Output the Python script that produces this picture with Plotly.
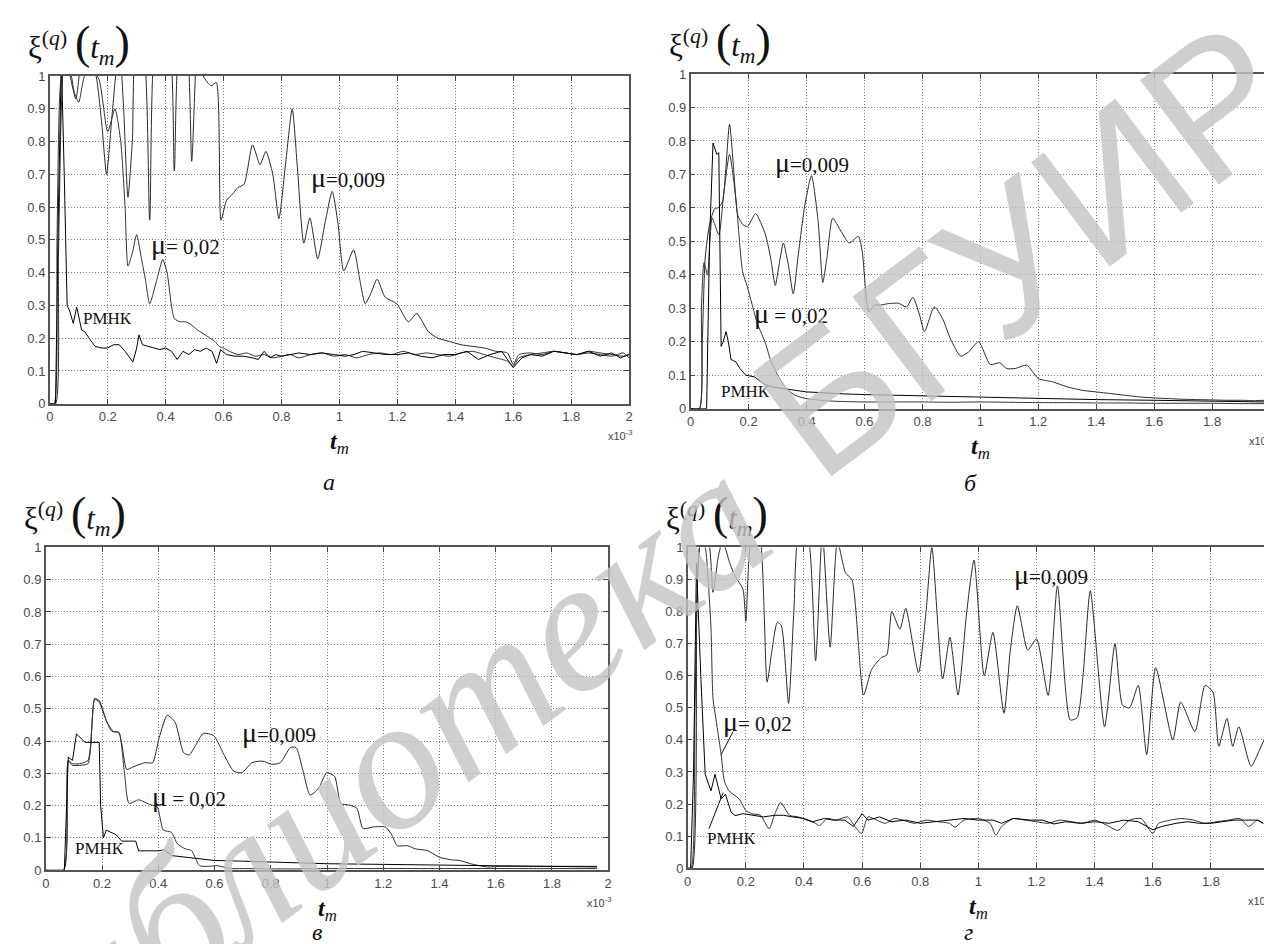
import plotly.graph_objects as go

W, H = 1272, 944

# ---------------- data (t in units of 1e-3) ----------------
x_ticks = [0, 0.2, 0.4, 0.6, 0.8, 1.0, 1.2, 1.4, 1.6, 1.8, 2.0]
x_tick_text = ["0", "0.2", "0.4", "0.6", "0.8", "1", "1.2", "1.4", "1.6", "1.8", "2"]
y_ticks = [0, 0.1, 0.2, 0.3, 0.4, 0.5, 0.6, 0.7, 0.8, 0.9, 1.0]
y_tick_text = ["0", "0.1", "0.2", "0.3", "0.4", "0.5", "0.6", "0.7", "0.8", "0.9", "1"]

# panel a
a_t_mu009 = [0, 0.02, 0.03, 0.04, 0.05, 0.07, 0.09, 0.11, 0.13, 0.16,
             0.18, 0.196, 0.215, 0.24, 0.255, 0.27, 0.285, 0.30, 0.32, 0.345,
             0.365, 0.38, 0.41, 0.43, 0.45, 0.47, 0.49, 0.51, 0.53, 0.557,
             0.575, 0.591, 0.61, 0.631, 0.65, 0.671, 0.70, 0.726, 0.746, 0.77,
             0.791, 0.815, 0.837, 0.855, 0.877, 0.898, 0.925, 0.95, 0.975, 0.995,
             1.015, 1.049, 1.07, 1.089, 1.11, 1.13, 1.158, 1.198, 1.238, 1.267,
             1.307, 1.34, 1.38, 1.42, 1.46, 1.5, 1.54, 1.58, 1.6, 1.62,
             1.66, 1.7, 1.74, 1.78, 1.82, 1.86, 1.9, 1.94, 1.98, 2.0]
a_v_mu009 = [0, 0, 0.45, 0.9, 1.05, 1.0, 0.93, 1.05, 1.08, 1.0,
             0.85, 0.70, 0.88, 1.1, 0.9, 0.63, 0.8, 1.1, 1.1, 0.56,
             1.1, 1.1, 1.1, 0.71, 1.1, 1.1, 0.74, 1.1, 1.0, 0.97,
             0.98, 0.56, 0.62, 0.64, 0.66, 0.67, 0.79, 0.73, 0.77, 0.70,
             0.565, 0.74, 0.90, 0.72, 0.49, 0.567, 0.442, 0.55, 0.648, 0.55,
             0.405, 0.47, 0.38, 0.305, 0.34, 0.38, 0.325, 0.305, 0.25, 0.275,
             0.22, 0.20, 0.19, 0.18, 0.175, 0.17, 0.16, 0.155, 0.12, 0.15,
             0.155, 0.15, 0.16, 0.155, 0.15, 0.155, 0.15, 0.145, 0.155, 0.14]
a_t_mu02 = [0, 0.015, 0.025, 0.035, 0.05, 0.07, 0.085, 0.1, 0.12, 0.144,
            0.17, 0.2, 0.225, 0.245, 0.26, 0.27, 0.285, 0.30, 0.315, 0.33,
            0.345, 0.37, 0.39, 0.405, 0.42, 0.43, 0.45, 0.47, 0.49, 0.51,
            0.545, 0.57, 0.585, 0.6, 0.62, 0.65, 0.68, 0.71, 0.74, 0.77,
            0.8, 0.83, 0.86, 0.9, 0.94, 0.98, 1.02, 1.06, 1.1, 1.14,
            1.18, 1.22, 1.26, 1.3, 1.34, 1.38, 1.42, 1.46, 1.5, 1.54,
            1.58, 1.6, 1.62, 1.66, 1.7, 1.74, 1.78, 1.82, 1.86, 1.9,
            1.94, 1.98, 2.0]
a_v_mu02 = [0, 0, 0.5, 0.95, 1.05, 1.02, 0.95, 0.92, 1.0, 1.02,
            0.99, 0.83, 0.90, 0.8, 0.6, 0.42, 0.46, 0.516, 0.45, 0.38,
            0.305, 0.38, 0.44, 0.40, 0.30, 0.26, 0.25, 0.25, 0.24, 0.225,
            0.205, 0.19, 0.175, 0.17, 0.16, 0.15, 0.155, 0.145, 0.15, 0.14,
            0.145, 0.15, 0.14, 0.15, 0.155, 0.145, 0.15, 0.14, 0.15, 0.155,
            0.15, 0.16, 0.15, 0.155, 0.15, 0.145, 0.155, 0.16, 0.15, 0.14,
            0.13, 0.115, 0.14, 0.15, 0.155, 0.16, 0.155, 0.15, 0.16, 0.155,
            0.15, 0.145, 0.15]
a_t_rmnk = [0, 0.02, 0.03, 0.04, 0.05, 0.06, 0.07, 0.081, 0.093, 0.11,
            0.12, 0.135, 0.156, 0.18, 0.2, 0.22, 0.24, 0.26, 0.287, 0.30,
            0.308, 0.32, 0.34, 0.36, 0.38, 0.40, 0.42, 0.44, 0.46, 0.48,
            0.5, 0.52, 0.54, 0.56, 0.576, 0.59, 0.61, 0.64, 0.67, 0.7,
            0.72, 0.74, 0.76, 0.78, 0.8, 0.83, 0.86, 0.9, 0.94, 0.98,
            1.02, 1.05, 1.08, 1.12, 1.16, 1.2, 1.24, 1.28, 1.32, 1.36,
            1.4, 1.44, 1.48, 1.52, 1.56, 1.6, 1.63, 1.66, 1.7, 1.74,
            1.78, 1.82, 1.86, 1.9, 1.94, 1.97, 2.0]
a_v_rmnk = [0, 0, 0.6, 1.05, 0.7, 0.3, 0.28, 0.245, 0.295, 0.225,
            0.22, 0.2, 0.175, 0.17, 0.17, 0.18, 0.18, 0.16, 0.127, 0.17,
            0.21, 0.18, 0.175, 0.17, 0.165, 0.17, 0.16, 0.135, 0.16, 0.15,
            0.165, 0.16, 0.17, 0.16, 0.123, 0.165, 0.15, 0.145, 0.145, 0.14,
            0.135, 0.16, 0.14, 0.15, 0.145, 0.15, 0.155, 0.15, 0.155, 0.15,
            0.145, 0.15, 0.16, 0.155, 0.15, 0.15, 0.155, 0.145, 0.14, 0.15,
            0.15, 0.16, 0.135, 0.15, 0.16, 0.11, 0.14, 0.15, 0.145, 0.16,
            0.155, 0.15, 0.16, 0.145, 0.155, 0.14, 0.15]

# panel b
b_t_mu009 = [0, 0.03, 0.04, 0.05, 0.065, 0.083, 0.095, 0.11, 0.134, 0.148,
             0.162, 0.18, 0.196, 0.224, 0.258, 0.276, 0.292, 0.305, 0.32, 0.337,
             0.354, 0.37, 0.394, 0.417, 0.44, 0.456, 0.47, 0.49, 0.519, 0.547,
             0.579, 0.592, 0.615, 0.634, 0.66, 0.683, 0.717, 0.745, 0.767, 0.79,
             0.807, 0.841, 0.869, 0.898, 0.932, 0.96, 0.994, 1.034, 1.067, 1.09,
             1.12, 1.16, 1.2, 1.25, 1.3, 1.35, 1.4, 1.45, 1.5, 1.55,
             1.6, 1.65, 1.7, 1.75, 1.8, 1.85, 1.9, 1.95, 1.98]
b_v_mu009 = [0, 0, 0.2, 0.45, 0.55, 0.598, 0.6, 0.62, 0.85, 0.72,
             0.58, 0.55, 0.544, 0.583, 0.52, 0.45, 0.368, 0.43, 0.495, 0.43,
             0.343, 0.45, 0.608, 0.696, 0.559, 0.377, 0.45, 0.569, 0.53, 0.495,
             0.515, 0.47, 0.289, 0.309, 0.31, 0.314, 0.315, 0.304, 0.333, 0.28,
             0.23, 0.304, 0.27, 0.206, 0.157, 0.17, 0.2, 0.132, 0.137, 0.12,
             0.12, 0.13, 0.09, 0.08, 0.065, 0.055, 0.05, 0.045, 0.04, 0.035,
             0.032, 0.03, 0.028, 0.027, 0.026, 0.025, 0.025, 0.024, 0.025]
b_t_mu02 = [0, 0.03, 0.037, 0.046, 0.058, 0.074, 0.097, 0.115, 0.134, 0.156,
            0.179, 0.196, 0.23, 0.258, 0.275, 0.3, 0.33, 0.36, 0.4, 0.45,
            0.5, 0.6, 0.7, 0.8, 0.9, 1.0, 1.1, 1.2, 1.3, 1.4,
            1.5, 1.6, 1.7, 1.8, 1.9, 1.98]
b_v_mu02 = [0, 0, 0.3, 0.436, 0.40, 0.569, 0.52, 0.65, 0.76, 0.627,
            0.41, 0.363, 0.255, 0.196, 0.147, 0.1, 0.06, 0.04, 0.03, 0.025,
            0.022, 0.02, 0.02, 0.02, 0.019, 0.02, 0.019, 0.018, 0.018, 0.017,
            0.017, 0.016, 0.016, 0.016, 0.015, 0.015]
b_t_rmnk = [0, 0.055, 0.065, 0.077, 0.09, 0.097, 0.105, 0.112, 0.122, 0.13,
            0.139, 0.156, 0.17, 0.19, 0.22, 0.25, 0.28, 0.32, 0.36, 0.4,
            0.45, 0.5, 0.6, 0.7, 0.8, 0.9, 1.0, 1.2, 1.4, 1.6,
            1.8, 1.98]
b_v_rmnk = [0, 0, 0.5, 0.794, 0.76, 0.765, 0.186, 0.2, 0.23, 0.2,
            0.147, 0.14, 0.12, 0.1, 0.095, 0.075, 0.065, 0.06, 0.055, 0.05,
            0.048, 0.045, 0.042, 0.04, 0.038, 0.036, 0.034, 0.03, 0.027, 0.025,
            0.022, 0.02]

# panel c
c_t_mu009 = [0, 0.063, 0.08, 0.095, 0.12, 0.15, 0.174, 0.19, 0.217, 0.235,
             0.26, 0.288, 0.31, 0.353, 0.38, 0.403, 0.432, 0.46, 0.49, 0.51,
             0.535, 0.56, 0.597, 0.633, 0.668, 0.697, 0.733, 0.769, 0.805, 0.834,
             0.87, 0.89, 0.912, 0.94, 0.97, 0.999, 1.027, 1.049, 1.077, 1.106,
             1.128, 1.164, 1.207, 1.228, 1.25, 1.286, 1.314, 1.357, 1.4, 1.443,
             1.472, 1.515, 1.57, 1.62, 1.7, 1.8, 1.9, 1.96]
c_v_mu009 = [0, 0, 0.338, 0.325, 0.325, 0.33, 0.532, 0.525, 0.459, 0.43,
             0.427, 0.312, 0.32, 0.333, 0.333, 0.41, 0.48, 0.458, 0.364, 0.357,
             0.39, 0.424, 0.417, 0.359, 0.307, 0.302, 0.333, 0.338, 0.328, 0.333,
             0.38, 0.38, 0.317, 0.233, 0.254, 0.302, 0.291, 0.207, 0.202, 0.192,
             0.129, 0.134, 0.134, 0.113, 0.076, 0.076, 0.066, 0.061, 0.04, 0.032,
             0.03, 0.019, 0.01, 0.012, 0.012, 0.012, 0.012, 0.012]
c_t_mu02 = [0, 0.063, 0.08, 0.095, 0.12, 0.15, 0.174, 0.19, 0.217, 0.24,
            0.26, 0.28, 0.296, 0.33, 0.374, 0.396, 0.418, 0.446, 0.468, 0.496,
            0.518, 0.547, 0.582, 0.61, 0.654, 0.7, 0.8, 0.9, 1.0, 1.2,
            1.4, 1.6, 1.8, 1.96]
c_v_mu02 = [0, 0, 0.34, 0.33, 0.33, 0.34, 0.53, 0.52, 0.46, 0.43,
            0.425, 0.3, 0.207, 0.218, 0.202, 0.197, 0.124, 0.118, 0.082, 0.066,
            0.061, 0.014, 0.012, 0.014, 0.005, 0.005, 0.004, 0.004, 0.005, 0.005,
            0.005, 0.005, 0.005, 0.005]
c_t_rmnk = [0, 0.066, 0.08, 0.095, 0.109, 0.125, 0.14, 0.19, 0.195, 0.205,
            0.215, 0.25, 0.27, 0.32, 0.33, 0.4, 0.42, 0.45, 0.5, 0.55,
            0.6, 0.7, 0.8, 0.9, 1.0, 1.2, 1.4, 1.6, 1.8, 1.96]
c_v_rmnk = [0, 0, 0.35, 0.34, 0.422, 0.41, 0.396, 0.396, 0.2, 0.1,
            0.124, 0.11, 0.09, 0.09, 0.06, 0.06, 0.063, 0.045, 0.04, 0.035,
            0.03, 0.028, 0.025, 0.023, 0.02, 0.018, 0.016, 0.015, 0.012, 0.01]

# panel d
d_t_mu009 = [0, 0.015, 0.032, 0.046, 0.07, 0.087, 0.105, 0.12, 0.145, 0.163,
             0.19, 0.2, 0.218, 0.245, 0.273, 0.29, 0.308, 0.322, 0.347, 0.365,
             0.384, 0.41, 0.44, 0.463, 0.49, 0.515, 0.543, 0.565, 0.605, 0.633,
             0.667, 0.685, 0.702, 0.73, 0.75, 0.794, 0.82, 0.84, 0.877, 0.902,
             0.93, 0.96, 0.985, 1.02, 1.05, 1.088, 1.11, 1.134, 1.17, 1.2,
             1.24, 1.272, 1.316, 1.34, 1.36, 1.385, 1.434, 1.47, 1.496, 1.52,
             1.55, 1.579, 1.61, 1.669, 1.696, 1.745, 1.78, 1.807, 1.827, 1.855,
             1.875, 1.896, 1.938, 1.965, 1.985]
d_v_mu009 = [0, 0, 0.84, 1.02, 1.02, 0.86, 0.97, 1.02, 0.95, 0.91,
             0.87, 0.77, 1.02, 1.05, 0.58, 0.68, 0.766, 0.756, 0.514, 0.8,
             1.05, 1.05, 0.647, 1.05, 0.689, 1.02, 0.92, 0.9, 0.54, 0.62,
             0.657, 0.665, 0.80, 0.745, 0.81, 0.61, 0.8, 1.0, 0.59, 0.72,
             0.54, 0.8, 0.96, 0.6, 0.735, 0.483, 0.68, 0.818, 0.68, 0.715,
             0.539, 0.88, 0.462, 0.47, 0.6, 0.865, 0.441, 0.70, 0.508, 0.5,
             0.57, 0.354, 0.625, 0.40, 0.518, 0.426, 0.57, 0.549, 0.38, 0.467,
             0.38, 0.441, 0.318, 0.364, 0.405]
d_t_mu02 = [0, 0.012, 0.025, 0.035, 0.045, 0.06, 0.07, 0.08, 0.087, 0.1,
            0.115, 0.126, 0.142, 0.177, 0.2, 0.22, 0.25, 0.28, 0.3, 0.32,
            0.35, 0.38, 0.41, 0.44, 0.453, 0.48, 0.51, 0.55, 0.575, 0.598,
            0.62, 0.65, 0.68, 0.71, 0.74, 0.78, 0.82, 0.86, 0.9, 0.92,
            0.95, 1.0, 1.04, 1.06, 1.08, 1.12, 1.16, 1.2, 1.24, 1.28,
            1.32, 1.36, 1.4, 1.44, 1.48, 1.52, 1.56, 1.6, 1.62, 1.66,
            1.7, 1.74, 1.78, 1.82, 1.86, 1.9, 1.93, 1.96, 1.98]
d_v_mu02 = [0, 0, 0.5, 0.93, 1.02, 1.0, 0.9, 0.75, 0.53, 0.447,
            0.354, 0.272, 0.241, 0.216, 0.18, 0.17, 0.165, 0.123, 0.17, 0.205,
            0.165, 0.16, 0.15, 0.14, 0.133, 0.155, 0.15, 0.16, 0.13, 0.108,
            0.16, 0.15, 0.14, 0.155, 0.15, 0.14, 0.15, 0.145, 0.14, 0.128,
            0.15, 0.155, 0.14, 0.103, 0.13, 0.155, 0.15, 0.145, 0.14, 0.15,
            0.145, 0.14, 0.15, 0.135, 0.118, 0.15, 0.155, 0.108, 0.14, 0.15,
            0.155, 0.15, 0.14, 0.145, 0.15, 0.155, 0.13, 0.15, 0.14]
d_t_rmnk = [0, 0.01, 0.02, 0.03, 0.045, 0.06, 0.08, 0.094, 0.115, 0.13,
            0.149, 0.163, 0.19, 0.22, 0.26, 0.3, 0.33, 0.36, 0.4, 0.43,
            0.47, 0.5, 0.54, 0.57, 0.6, 0.62, 0.66, 0.7, 0.75, 0.8,
            0.85, 0.9, 0.95, 1.0, 1.05, 1.08, 1.12, 1.18, 1.22, 1.26,
            1.3, 1.35, 1.4, 1.45, 1.5, 1.55, 1.6, 1.63, 1.68, 1.72,
            1.76, 1.8, 1.84, 1.88, 1.92, 1.96, 1.98]
d_v_rmnk = [0, 0, 0.3, 0.95, 0.6, 0.293, 0.241, 0.293, 0.216, 0.23,
            0.175, 0.164, 0.17, 0.165, 0.16, 0.165, 0.165, 0.16, 0.155, 0.145,
            0.155, 0.15, 0.15, 0.13, 0.17, 0.15, 0.16, 0.145, 0.15, 0.14,
            0.145, 0.15, 0.155, 0.15, 0.15, 0.14, 0.155, 0.15, 0.15, 0.138,
            0.145, 0.14, 0.145, 0.14, 0.15, 0.145, 0.12, 0.13, 0.14, 0.145,
            0.14, 0.14, 0.145, 0.15, 0.15, 0.15, 0.14]

# labels inside panels
label_mu009 = ["μ=0,009", "μ=0,009", "μ=0,009", "μ=0,009"]
label_mu02 = ["μ= 0,02", "μ = 0,02", "μ = 0,02", "μ= 0,02"]
label_rmnk = "РМНК"
captions = ["а", "б", "в", "г"]
pos_mu009 = [(1.03, 0.69), (0.42, 0.735), (0.83, 0.427), (1.25, 0.915)]
pos_mu02 = [(0.47, 0.487), (0.345, 0.285), (0.51, 0.228), (0.24, 0.457)]
pos_rmnk = [(0.2, 0.26), (0.19, 0.05), (0.19, 0.066), (0.15, 0.092)]
d_pointers = [((0.156, 0.426), (0.115, 0.354)), ((0.073, 0.123), (0.122, 0.236))]
watermarks = ["БГУИР", "Библиотека"]

# ---------------- layout geometry (pixels) ----------------
panels = [
    dict(x0=38, x1=621, y0=62, y1=395, cap=80),
    dict(x0=683, x1=1266, y0=60, y1=400, cap=76),
    dict(x0=34, x1=600, y0=541, y1=869, cap=63),
    dict(x0=680, x1=1265, y0=541, y1=867, cap=65),
]

def px(x):
    return x / W

def py(y):
    return 1 - y / H

series = [
    [(a_t_mu009, a_v_mu009), (a_t_mu02, a_v_mu02), (a_t_rmnk, a_v_rmnk)],
    [(b_t_mu009, b_v_mu009), (b_t_mu02, b_v_mu02), (b_t_rmnk, b_v_rmnk)],
    [(c_t_mu009, c_v_mu009), (c_t_mu02, c_v_mu02), (c_t_rmnk, c_v_rmnk)],
    [(d_t_mu009, d_v_mu009), (d_t_mu02, d_v_mu02), (d_t_rmnk, d_v_rmnk)],
]
line_colors = ["#2a2a2a", "#333333", "#000000"]
line_shapes = ["spline", "spline", "linear"]

fig = go.Figure()
layout = dict(
    width=W, height=H,
    margin=dict(l=0, r=0, t=0, b=0),
    paper_bgcolor="white", plot_bgcolor="white",
    showlegend=False,
    annotations=[], shapes=[],
)

tick_font = dict(family="Arial, Liberation Sans", size=13, color="#4a4a4a")
serif = "Times New Roman, Liberation Serif, serif"

for i, p in enumerate(panels):
    n = "" if i == 0 else str(i + 1)
    xa, ya = "x" + n, "y" + n
    for (t, v), col, shp in zip(series[i], line_colors, line_shapes):
        fig.add_trace(go.Scatter(x=t, y=v, mode="lines", xaxis=xa, yaxis=ya,
                                 line=dict(color=col, width=1, shape=shp, smoothing=0.6),
                                 hoverinfo="skip"))
    common = dict(showline=True, linecolor="#555", linewidth=1.5, mirror="ticks",
                  ticks="inside", ticklen=5, tickcolor="#444", tickwidth=1,
                  showgrid=True, gridcolor="#7a7a7a", griddash="1px,2px", gridwidth=1,
                  zeroline=False, tickfont=tick_font, fixedrange=True)
    layout["xaxis" + n] = dict(common, domain=[px(p["x0"]), px(p["x1"])], anchor=ya,
                               range=[0, 2], tickvals=x_ticks, ticktext=x_tick_text)
    layout["yaxis" + n] = dict(common, domain=[py(p["y1"]), py(p["y0"])], anchor=xa,
                               range=[0, 1], tickvals=y_ticks, ticktext=y_tick_text)
    ann = layout["annotations"]
    # y-label title
    ann.append(dict(xref="paper", yref="paper", x=px(p["x0"] - 24), y=py(p["y0"] - 4),
                    xanchor="left", yanchor="bottom", showarrow=False,
                    text='ξ<sup>(<i>q</i>)</sup> <span style="font-size:46px">(</span><i>t<sub>m</sub></i><span style="font-size:46px">)</span>',
                    font=dict(family=serif, size=31, color="#111")))
    # x label
    ann.append(dict(xref="paper", yref="paper", x=px((p["x0"] + p["x1"]) / 2), y=py(p["y1"] + 40),
                    xanchor="center", yanchor="middle", showarrow=False,
                    text="<b><i>t</i></b><sub><i>m</i></sub>",
                    font=dict(family=serif, size=24, color="#111")))
    # exponent
    ann.append(dict(xref="paper", yref="paper", x=px(p["x1"] + 6), y=py(p["y1"] + 32),
                    xanchor="right", yanchor="middle", showarrow=False,
                    text="x10<sup>-3</sup>",
                    font=dict(family="Arial, Liberation Sans", size=11, color="#444")))
    # caption
    ann.append(dict(xref="paper", yref="paper", x=px((p["x0"] + p["x1"]) / 2 - 10), y=py(p["y1"] + p["cap"]),
                    xanchor="center", yanchor="middle", showarrow=False,
                    text="<i>" + captions[i] + "</i>",
                    font=dict(family=serif, size=24, color="#111")))
    # curve labels
    for txt, (tx, ty) in [(label_mu009[i], pos_mu009[i]), (label_mu02[i], pos_mu02[i])]:
        mu, rest = txt[0], txt[1:]
        ann.append(dict(xref=xa, yref=ya, x=tx, y=ty, xanchor="center", yanchor="middle",
                        showarrow=False,
                        text='<span style="font-size:28px">' + mu + '</span>' + rest,
                        font=dict(family=serif, size=21, color="#111")))
    ann.append(dict(xref=xa, yref=ya, x=pos_rmnk[i][0], y=pos_rmnk[i][1], xanchor="center",
                    yanchor="middle", showarrow=False, text=label_rmnk,
                    font=dict(family=serif, size=17, color="#111")))

for (xs, ys), (xe, ye) in d_pointers:
    layout["shapes"].append(dict(type="line", xref="x4", yref="y4", x0=xs, y0=ys, x1=xe, y1=ye,
                                 line=dict(color="#111", width=1)))

# watermark
layout["annotations"].append(dict(xref="paper", yref="paper", x=px(1018), y=py(238),
                                  xanchor="center", yanchor="middle",
                                  text=watermarks[0], showarrow=False, textangle=-37,
                                  font=dict(family="Liberation Sans, Arial", size=190,
                                            color="rgba(195,195,195,0.8)")))
layout["annotations"].append(dict(xref="paper", yref="paper", x=px(345), y=py(785),
                                  xanchor="center", yanchor="middle",
                                  text="<i>" + watermarks[1] + "</i>", showarrow=False, textangle=-37,
                                  font=dict(family="Liberation Serif, Times New Roman", size=190,
                                            color="rgba(195,195,195,0.8)")))

fig.update_layout(**layout)
fig.write_html("out.html")
